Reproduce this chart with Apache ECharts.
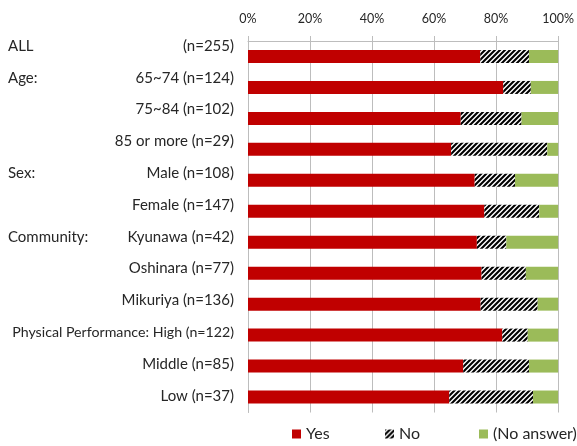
<!DOCTYPE html>
<html>
<head>
<meta charset="utf-8">
<script src="https://cdn.jsdelivr.net/npm/echarts@6/dist/echarts.min.js"></script>
<style>
html,body{margin:0;padding:0;background:#fff;}
#chart{width:577px;height:446px;}
</style>
</head>
<body>
<div id="chart"></div>
<script>
// ---- data ----
const categories = ['(n=255)', '65~74 (n=124)', '75~84 (n=102)', '85 or more (n=29)',
  'Male (n=108)', 'Female (n=147)', 'Kyunawa (n=42)', 'Oshinara (n=77)', 'Mikuriya (n=136)',
  'Physical Performance: High (n=122)', 'Middle (n=85)', 'Low (n=37)'];
const groups = ['ALL', 'Age:', '', '', 'Sex:', '', 'Community:', '', '', '', '', ''];
const seriesNames = ['Yes', 'No', '(No answer)'];
const yesVals = [74.9, 82.3, 68.6, 65.5, 73.1, 76.2, 73.8, 75.3, 75.0, 82.0, 69.4, 64.9];
const noVals  = [15.7, 8.9, 19.6, 31.0, 13.0, 17.7, 9.5, 14.3, 18.4, 8.2, 21.2, 27.0];
const naVals  = [9.4, 8.8, 11.8, 3.5, 13.9, 6.1, 16.7, 10.4, 6.6, 9.8, 9.4, 8.1];
const xTicks = { min: 0, max: 100, interval: 20 };

// ---- hatch pattern for "No" ----
function makeHatch() {
  const s = 5;
  const c = document.createElement('canvas');
  c.width = s; c.height = s;
  const g = c.getContext('2d');
  g.fillStyle = '#ffffff';
  g.fillRect(0, 0, s, s);
  g.strokeStyle = '#000000';
  g.lineWidth = 2.1;
  g.beginPath();
  g.moveTo(0, s); g.lineTo(s, 0);
  g.moveTo(-1, 1); g.lineTo(1, -1);
  g.moveTo(s - 1, s + 1); g.lineTo(s + 1, s - 1);
  g.stroke();
  return c;
}
const hatch = { image: makeHatch(), repeat: 'repeat' };

const FONT = 'Lato';
const TXT = '#262626';
const GRIDC = '#bdbdbd';

const chart = echarts.init(document.getElementById('chart'), null, { renderer: 'canvas' });
const legendBase = {
  top: 426, padding: 0, itemWidth: 9, itemHeight: 9, icon: 'rect',
  textStyle: { fontFamily: FONT, fontSize: 16, color: TXT }
};
chart.setOption({
  animation: false,
  backgroundColor: '#ffffff',
  grid: [
    { left: 248, right: 17, top: 41, bottom: 33.5 },
    { left: 248, right: 17, top: 30, bottom: 34.3 }
  ],
  legend: [
    Object.assign({ left: 292, data: [seriesNames[0]] }, legendBase),
    Object.assign({ left: 385, data: [seriesNames[1]] }, legendBase),
    Object.assign({ left: 479, data: [seriesNames[2]] }, legendBase)
  ],
  xAxis: [
    {
      type: 'value', gridIndex: 0, position: 'top',
      min: xTicks.min, max: xTicks.max, interval: xTicks.interval,
      axisLine: { show: true, lineStyle: { color: GRIDC, width: 1 } },
      axisTick: { show: true, length: 5, lineStyle: { color: GRIDC } },
      axisLabel: { formatter: '{value}%', fontFamily: FONT, fontSize: 12.5, color: TXT, margin: 16 },
      splitLine: { show: true, lineStyle: { color: GRIDC, width: 1 } }
    },
    { type: 'value', gridIndex: 1, show: false, min: 0, max: 100 }
  ],
  yAxis: [
    {
      type: 'category', gridIndex: 0, inverse: true, data: categories,
      axisLine: { show: true, lineStyle: { color: GRIDC } },
      axisTick: { show: false },
      axisLabel: { show: false }
    },
    {
      type: 'category', gridIndex: 1, inverse: true, data: categories,
      axisLine: { show: false }, axisTick: { show: false },
      axisLabel: {
        margin: 14, fontFamily: FONT, fontSize: 15, color: TXT,
        formatter: v => v.indexOf('Physical') === 0 ? '{s|' + v + '}' : v,
        rich: { s: { fontFamily: FONT, fontSize: 14.2, color: TXT } }
      }
    },
    {
      type: 'category', gridIndex: 1, inverse: true, data: groups, position: 'left',
      axisLine: { show: false }, axisTick: { show: false },
      axisLabel: { margin: 240, align: 'left', fontFamily: FONT, fontSize: 15, color: TXT }
    }
  ],
  series: [
    { name: seriesNames[0], type: 'bar', stack: 'total', barWidth: 13, data: yesVals,
      itemStyle: { color: '#C00000' }, xAxisIndex: 0, yAxisIndex: 0 },
    { name: seriesNames[1], type: 'bar', stack: 'total', barWidth: 13, data: noVals,
      itemStyle: { color: hatch }, xAxisIndex: 0, yAxisIndex: 0 },
    { name: seriesNames[2], type: 'bar', stack: 'total', barWidth: 13, data: naVals,
      itemStyle: { color: '#9BBB59' }, xAxisIndex: 0, yAxisIndex: 0 }
  ]
});
</script>
</body>
</html>
